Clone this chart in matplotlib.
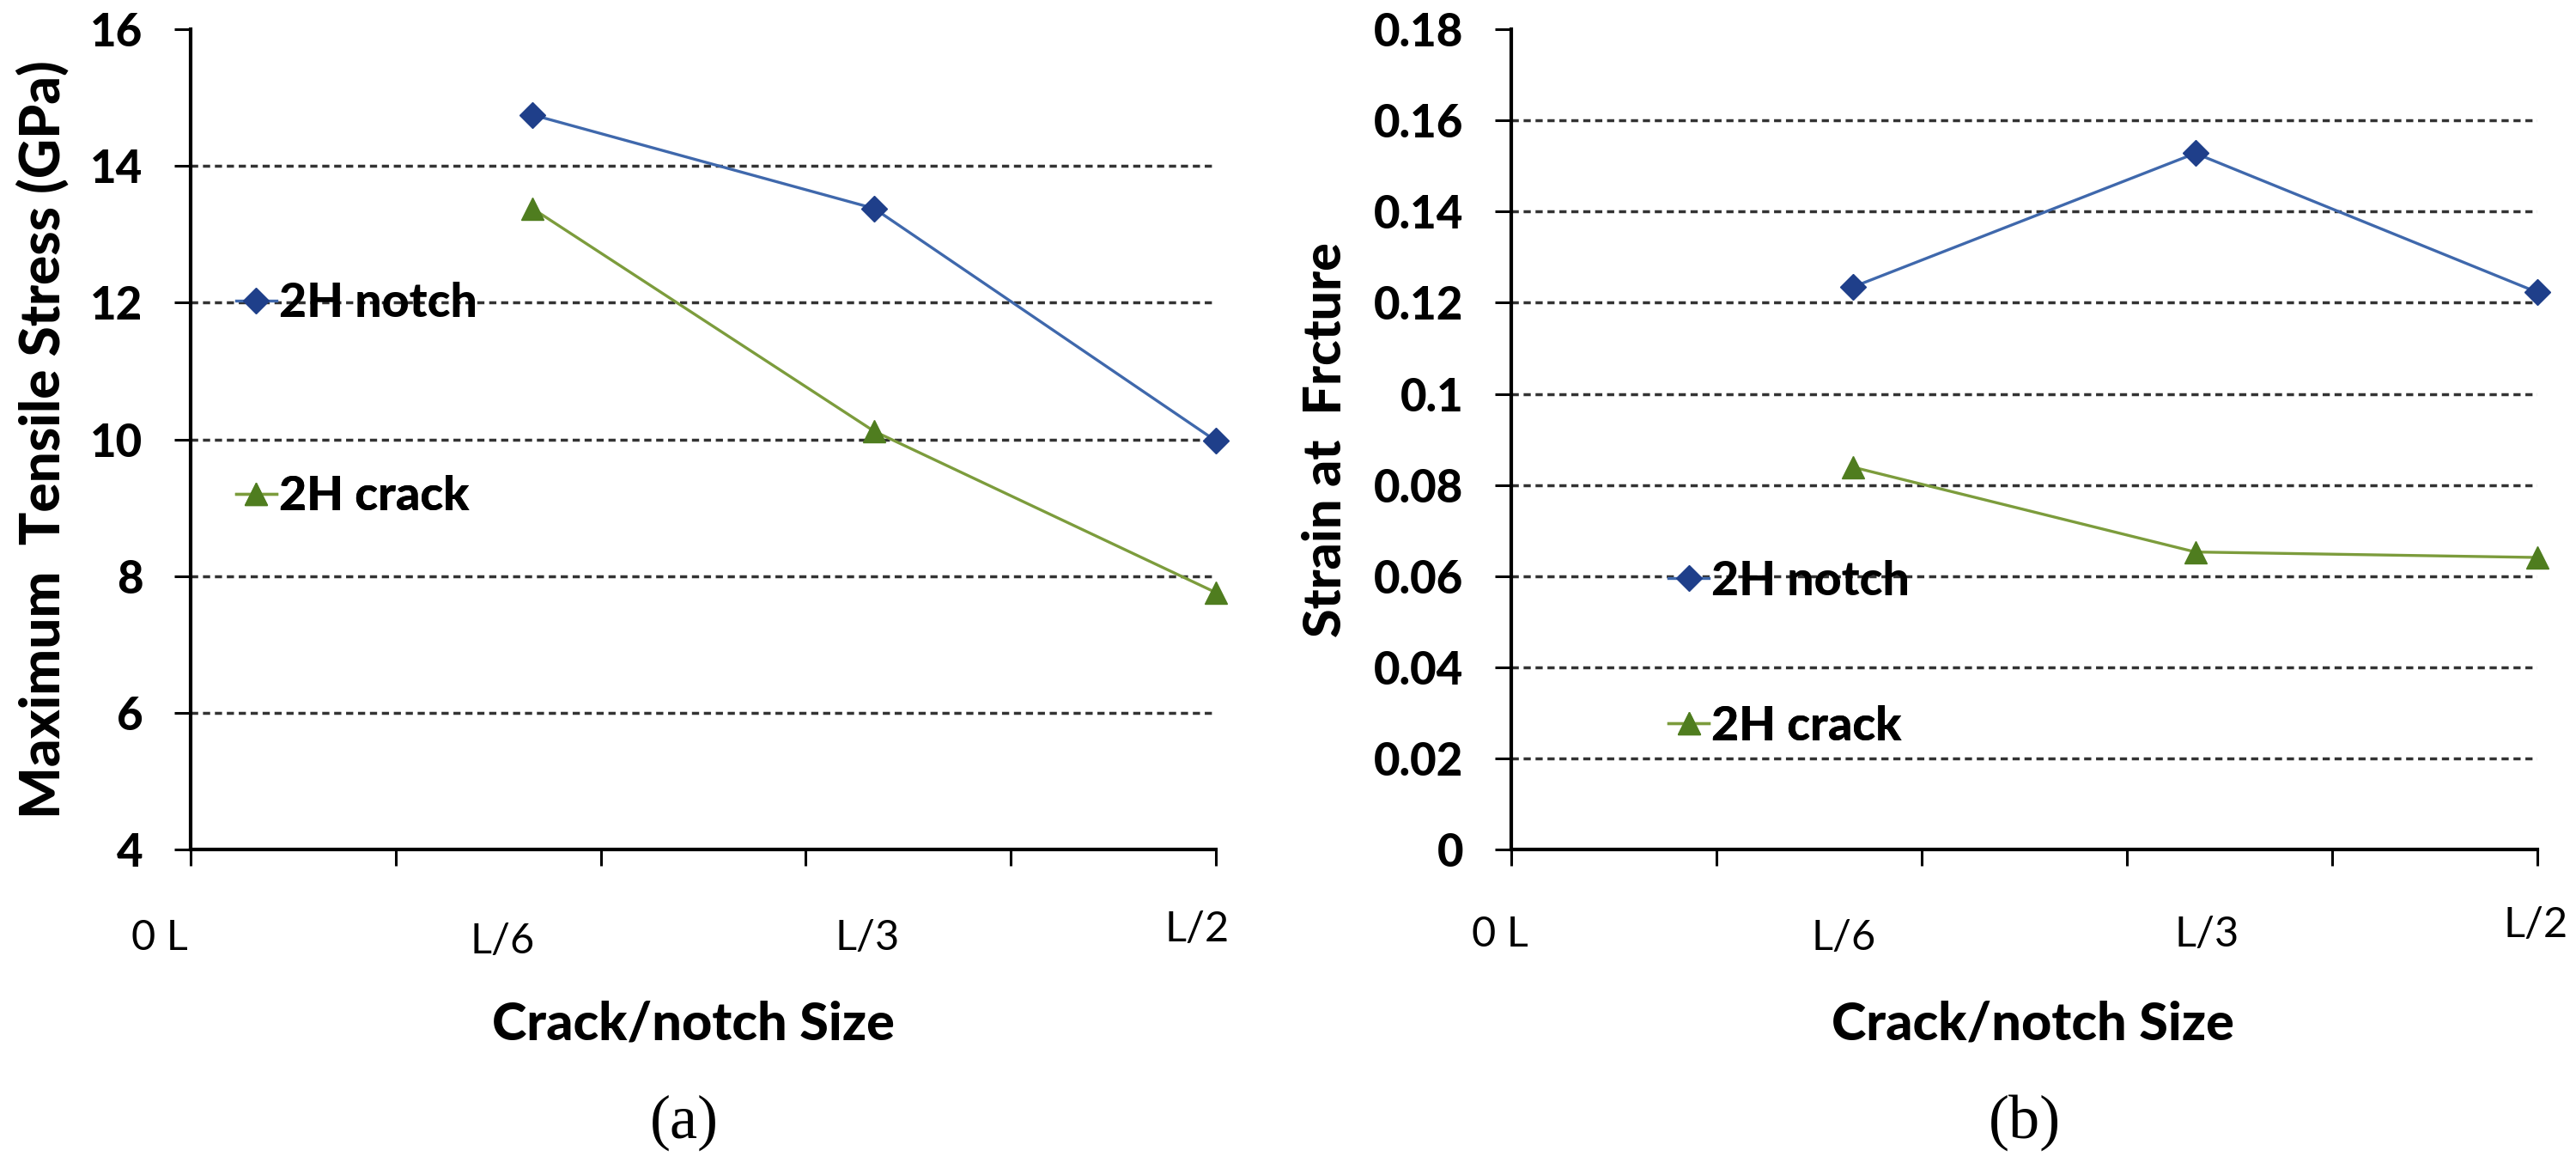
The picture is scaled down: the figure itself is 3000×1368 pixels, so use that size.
import matplotlib
matplotlib.use('Agg')
import matplotlib.pyplot as plt
from matplotlib.lines import Line2D

# crack/notch size as fraction of L
sizes = [1 / 6, 1 / 3, 1 / 2]
size_labels = ['0 L', 'L/6', 'L/3', 'L/2']

stress_notch = [14.75, 13.38, 9.98]
stress_crack = [13.38, 10.12, 7.76]

strain_notch = [0.1235, 0.1528, 0.1223]
strain_crack = [0.0839, 0.0653, 0.0641]

stress_ticks = [4, 6, 8, 10, 12, 14, 16]
strain_ticks = [0, 0.02, 0.04, 0.06, 0.08, 0.1, 0.12, 0.14, 0.16, 0.18]
strain_ticklabels = ['0', '0.02', '0.04', '0.06', '0.08', '0.1', '0.12', '0.14', '0.16', '0.18']

BLUE_LINE = '#3F68AC'
BLUE_MARK = '#1F3F8A'
GREEN_LINE = '#7C9C3C'
GREEN_MARK = '#4F7D1F'
GRID = '#333333'
FONT = 'Lato'
HEAVY = 'black'

fig = plt.figure(figsize=(30, 13.68), dpi=100)
ax_a = fig.add_axes([0.074, 0.277, 0.398, 0.698])
ax_b = fig.add_axes([0.5867, 0.277, 0.3983, 0.698])


def style_axes(ax, yticks, yticklabels, ylim):
    ax.set_xlim(0, 0.5)
    ax.set_ylim(*ylim)
    ax.set_xticks([0, 0.1, 0.2, 0.3, 0.4, 0.5])
    ax.set_xticklabels([])
    ax.set_yticks(yticks)
    ax.set_yticklabels(yticklabels, fontfamily=FONT, fontweight=HEAVY, fontsize=38)
    ax.tick_params(axis='both', direction='out', length=14, width=2.2, pad=26)
    for side in ['top', 'right']:
        ax.spines[side].set_visible(False)
    for side in ['left', 'bottom']:
        ax.spines[side].set_linewidth(3)
    # dashed grid lines, none on the first and last tick
    for y in yticks[1:-1]:
        ax.axhline(y, color=GRID, lw=2.5, ls=(0, (2.4, 1.6)), zorder=1)


def draw_series(ax, notch, crack):
    ax.plot(sizes, notch, color=BLUE_LINE, lw=2.4, marker='D', ms=15,
            mfc=BLUE_MARK, mec=BLUE_MARK, zorder=3, clip_on=False)
    ax.plot(sizes, crack, color=GREEN_LINE, lw=2.4, marker='^', ms=19,
            mfc=GREEN_MARK, mec=GREEN_MARK, zorder=3, clip_on=False)


def add_key(ax, label, color, mcolor, marker, ms, x, y):
    h = Line2D([], [], color=color, lw=2.4, marker=marker, ms=ms, mfc=mcolor, mec=mcolor)
    leg = ax.legend([h], [label], loc='center left', bbox_to_anchor=(x, y),
                    frameon=False, handlelength=0.85, handletextpad=0.05,
                    borderpad=0, borderaxespad=0,
                    prop={'family': FONT, 'weight': HEAVY, 'size': 40})
    ax.add_artist(leg)


def size_label_row(ax, xs, ys):
    for lab, x, y in zip(size_labels, xs, ys):
        ax.text(x, y, lab, transform=ax.get_xaxis_transform(), ha='center', va='center',
                fontfamily=FONT, fontsize=35)


# (a) maximum tensile stress
style_axes(ax_a, stress_ticks, [str(t) for t in stress_ticks], (4, 16))
draw_series(ax_a, stress_notch, stress_crack)
add_key(ax_a, '2H notch', BLUE_LINE, BLUE_MARK, 'D', 15, 0.044, 0.666)
add_key(ax_a, '2H crack', GREEN_LINE, GREEN_MARK, '^', 19, 0.044, 0.430)
size_label_row(ax_a, [-0.015, 0.152, 0.33, 0.491], [-0.108, -0.112, -0.108, -0.097])
ax_a.set_ylabel('Maximum  Tensile Stress (GPa)', fontfamily=FONT, fontweight=HEAVY,
                fontsize=46, labelpad=18)
ax_a.text(0.49, -0.213, 'Crack/notch Size', transform=ax_a.transAxes, ha='center',
          va='center', fontfamily=FONT, fontweight=HEAVY, fontsize=44)

# (b) strain at fracture
style_axes(ax_b, strain_ticks, strain_ticklabels, (0, 0.18))
draw_series(ax_b, strain_notch, strain_crack)
add_key(ax_b, '2H notch', BLUE_LINE, BLUE_MARK, 'D', 15, 0.153, 0.327)
add_key(ax_b, '2H crack', GREEN_LINE, GREEN_MARK, '^', 19, 0.153, 0.150)
size_label_row(ax_b, [-0.0056, 0.162, 0.339, 0.499], [-0.104, -0.108, -0.104, -0.092])
ax_b.set_ylabel('Strain at  Frcture', fontfamily=FONT, fontweight=HEAVY,
                fontsize=44, labelpad=20)
ax_b.text(0.508, -0.213, 'Crack/notch Size', transform=ax_b.transAxes, ha='center',
          va='center', fontfamily=FONT, fontweight=HEAVY, fontsize=44)

fig.text(797 / 3000, 1 - 1307 / 1368, '(a)', ha='center', va='center',
         fontfamily='Liberation Serif', fontsize=52)
fig.text(2358 / 3000, 1 - 1307 / 1368, '(b)', ha='center', va='center',
         fontfamily='Liberation Serif', fontsize=52)

fig.savefig('out.png', dpi=100)
